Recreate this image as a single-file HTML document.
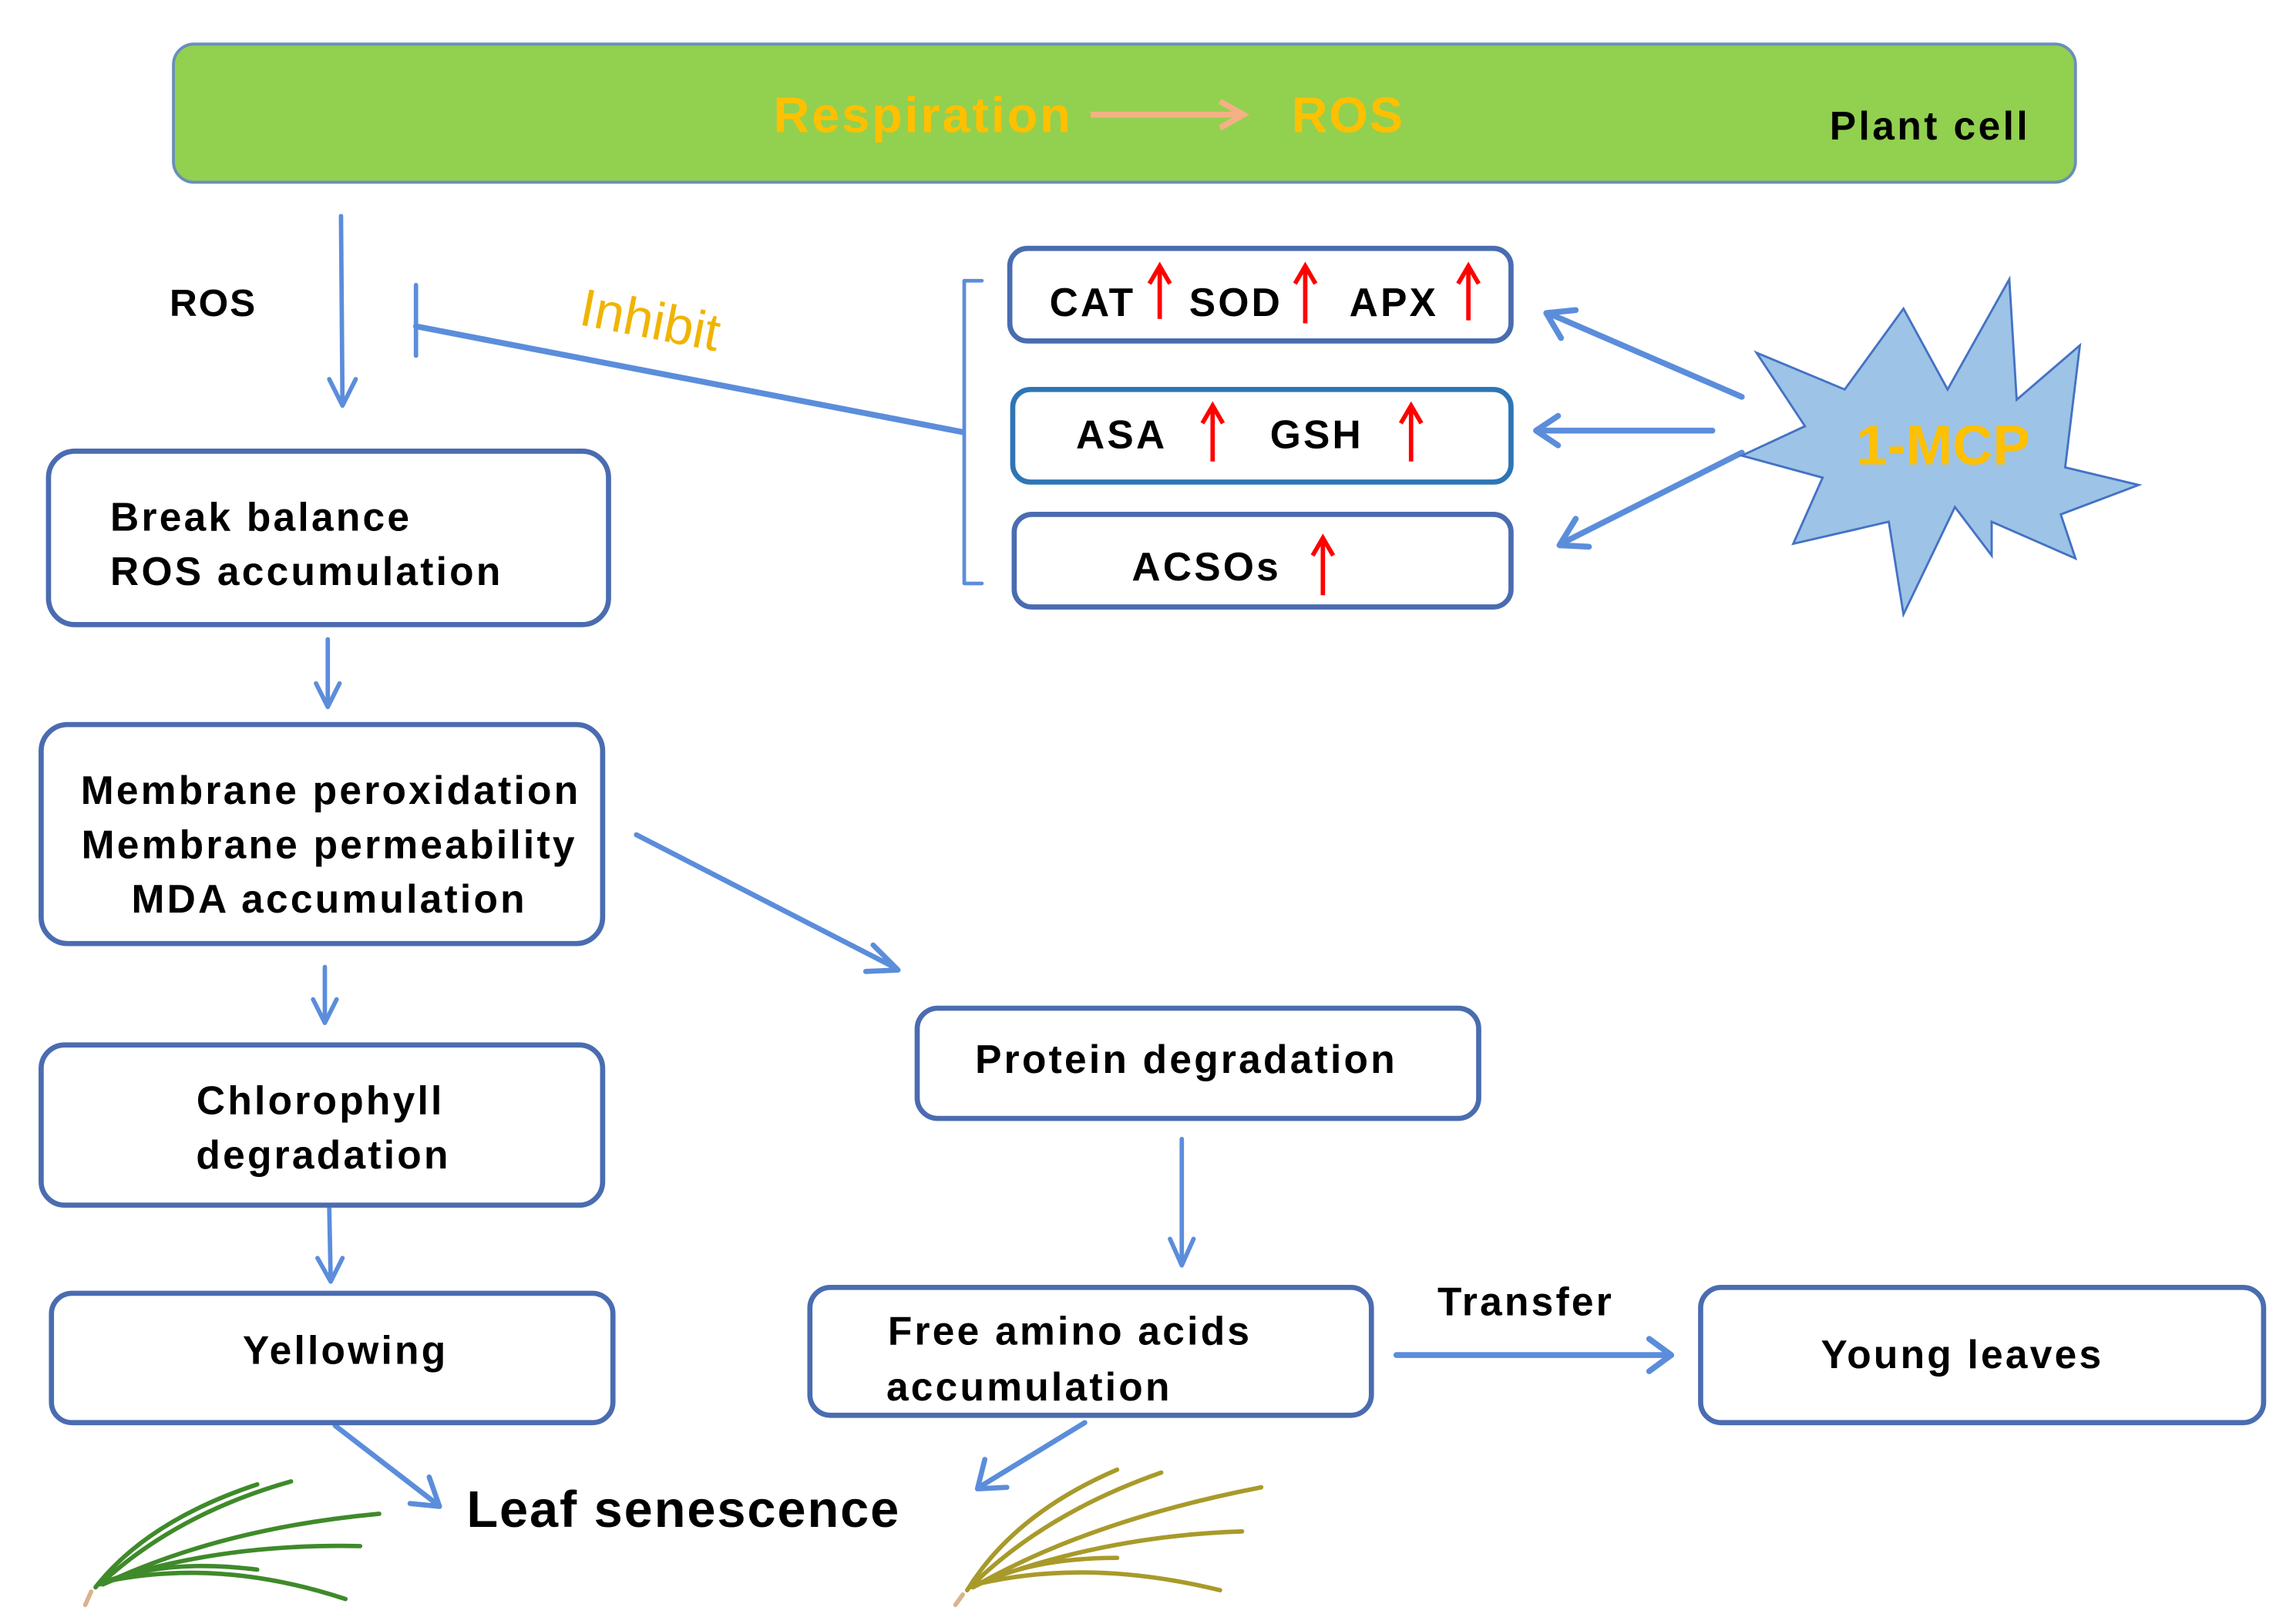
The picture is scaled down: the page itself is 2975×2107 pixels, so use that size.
<!DOCTYPE html>
<html><head><meta charset="utf-8"><style>
html,body{margin:0;padding:0;background:#fff;}
svg{display:block;}
text{font-family:"Liberation Sans",Arial,sans-serif;}
</style></head><body>
<svg width="2975" height="2107" viewBox="0 0 1560 1105" preserveAspectRatio="none" xmlns="http://www.w3.org/2000/svg">
<rect x="0" y="0" width="1560" height="1105" fill="#fff"/>
<!-- green bar -->
<rect x="118" y="30" width="1294" height="94" rx="14" fill="#92d050" stroke="#6a8fb8" stroke-width="2"/>
<text x="628" y="90" font-size="34" font-weight="bold" fill="#ffc000" text-anchor="middle" letter-spacing="1.5">Respiration</text>
<line x1="742" y1="78" x2="845" y2="78" stroke="#f4b183" stroke-width="4"/>
<polyline points="830,69 846,78 830,87" fill="none" stroke="#f4b183" stroke-width="4"/>
<text x="917" y="90" font-size="34" font-weight="bold" fill="#ffc000" text-anchor="middle" letter-spacing="1">ROS</text>
<text x="1313" y="95" font-size="27" font-weight="bold" fill="#000" text-anchor="middle" letter-spacing="1.8">Plant cell</text>

<g stroke="#5b8ddb" fill="none" stroke-width="3" stroke-linecap="round" stroke-linejoin="round">
<line x1="232" y1="147" x2="233" y2="275"/>
<polyline points="224,258 233,276 242,258"/>
<line x1="283" y1="194" x2="283" y2="242"/>
<line x1="283" y1="222" x2="655" y2="294" stroke-width="4"/>
<polyline points="668,191 656,191 656,397 668,397" stroke-width="2.5"/>
<line x1="1185" y1="270" x2="1053" y2="213" stroke-width="4"/>
<polyline points="1072,211 1052,213 1062,230" stroke-width="4"/>
<line x1="1165" y1="293" x2="1046" y2="293" stroke-width="4"/>
<polyline points="1060,283 1045,293 1060,303" stroke-width="4"/>
<line x1="1185" y1="308" x2="1062" y2="370" stroke-width="4"/>
<polyline points="1072,353 1061,371 1081,372" stroke-width="4"/>
<line x1="223" y1="435" x2="223" y2="480"/>
<polyline points="215,465 223,481 231,465"/>
<line x1="221" y1="658" x2="221" y2="695"/>
<polyline points="213,680 221,696 229,680"/>
<line x1="224" y1="822" x2="225" y2="871"/>
<polyline points="216,856 225,872 233,856"/>
<line x1="433" y1="568" x2="610" y2="659" stroke-width="3.5"/>
<polyline points="594,643 611,660 589,661" stroke-width="3.5"/>
<line x1="804" y1="775" x2="804" y2="860"/>
<polyline points="796,843 804,861 812,843"/>
<line x1="950" y1="922" x2="1135" y2="922" stroke-width="4"/>
<polyline points="1122,911 1137,922 1122,933" stroke-width="4"/>
<line x1="228" y1="970" x2="298" y2="1024" stroke-width="3.5"/>
<polyline points="292,1005 299,1025 279,1023" stroke-width="3.5"/>
<line x1="738" y1="968" x2="666" y2="1012" stroke-width="3.5"/>
<polyline points="670,993 665,1013 685,1012" stroke-width="3.5"/>
</g>

<text x="145" y="215" font-size="26" font-weight="bold" fill="#000" text-anchor="middle" letter-spacing="1">ROS</text>
<text x="442" y="230" font-size="36" fill="#f0b400" text-anchor="middle" transform="rotate(11 442 220)">Inhibit</text>

<g fill="#fff" stroke="#4a6cb0" stroke-width="3.5">
<rect x="687" y="169" width="341" height="63" rx="12"/>
<rect x="689" y="265" width="339" height="63" rx="12" stroke="#2e75b6"/>
<rect x="690" y="350" width="338" height="63" rx="12"/>
<rect x="33" y="307" width="381" height="118" rx="18"/>
<rect x="28" y="493" width="382" height="149" rx="18"/>
<rect x="28" y="711" width="382" height="109" rx="16"/>
<rect x="35" y="880" width="382" height="88" rx="14"/>
<rect x="624" y="686" width="382" height="75" rx="14"/>
<rect x="551" y="876" width="382" height="87" rx="14"/>
<rect x="1157" y="876" width="383" height="92" rx="14"/>
</g>

<g font-size="27" font-weight="bold" fill="#000" letter-spacing="1.7">
<text x="714" y="215">CAT</text>
<text x="809" y="215">SOD</text>
<text x="918" y="215">APX</text>
<text x="732" y="305">ASA</text>
<text x="864" y="305">GSH</text>
<text x="770" y="395">ACSOs</text>
<text x="75" y="361">Break balance</text>
<text x="75" y="398">ROS accumulation</text>
<text x="225" y="547" text-anchor="middle">Membrane peroxidation</text>
<text x="224" y="584" text-anchor="middle">Membrane permeability</text>
<text x="224" y="621" text-anchor="middle">MDA accumulation</text>
<text x="218" y="758" text-anchor="middle">Chlorophyll</text>
<text x="220" y="795" text-anchor="middle">degradation</text>
<text x="235" y="928" text-anchor="middle">Yellowing</text>
<text x="807" y="730" text-anchor="middle">Protein degradation</text>
<text x="604" y="915">Free amino acids</text>
<text x="603" y="953">accumulation</text>
<text x="1335" y="931" text-anchor="middle">Young leaves</text>
<text x="1038" y="895" text-anchor="middle">Transfer</text>
</g>
<text x="465" y="1039" font-size="35" font-weight="bold" fill="#000" text-anchor="middle" letter-spacing="1">Leaf senescence</text>

<g stroke="#ff0000" stroke-width="3" fill="none">
<line x1="789" y1="217" x2="789" y2="182"/><polyline points="782,193 789,181 796,193"/>
<line x1="888" y1="220" x2="888" y2="182"/><polyline points="881,193 888,181 895,193"/>
<line x1="999" y1="218" x2="999" y2="182"/><polyline points="992,193 999,181 1006,193"/>
<line x1="825" y1="314" x2="825" y2="276"/><polyline points="818,288 825,276 832,288"/>
<line x1="960" y1="314" x2="960" y2="276"/><polyline points="953,288 960,276 967,288"/>
<line x1="900" y1="405" x2="900" y2="366"/><polyline points="893,378 900,366 907,378"/>
</g>

<polygon points="1367,190 1372,272 1415,235 1405,318 1455,330 1402,350 1412,380 1355,355 1355,378 1330,345 1295,418 1285,355 1220,370 1240,325 1185,310 1228,290 1195,240 1255,265 1295,210 1325,265" fill="#9dc3e6" stroke="#4472c4" stroke-width="1.5" stroke-linejoin="miter"/>
<text x="1322" y="316" font-size="38" font-weight="bold" fill="#ffc000" text-anchor="middle">1-MCP</text>

<g fill="none" stroke-linecap="round">
<g stroke="#3f8a2a" stroke-width="3">
<path d="M65,1080 Q100,1035 175,1010"/>
<path d="M68,1078 Q120,1030 198,1008"/>
<path d="M70,1078 Q150,1040 258,1030"/>
<path d="M72,1076 Q150,1050 245,1052"/>
<path d="M72,1076 Q150,1060 235,1088"/>
<path d="M70,1078 Q110,1060 175,1068"/>
</g>
<path d="M62,1083 L58,1092" stroke="#d9b38c" stroke-width="3"/>
<g stroke="#a89a2a" stroke-width="3">
<path d="M658,1082 Q690,1030 760,1000"/>
<path d="M660,1080 Q710,1030 790,1002"/>
<path d="M662,1080 Q740,1035 858,1012"/>
<path d="M664,1078 Q750,1045 845,1042"/>
<path d="M664,1078 Q740,1060 830,1082"/>
<path d="M662,1080 Q700,1060 760,1060"/>
</g>
<path d="M655,1085 L650,1092" stroke="#d9b38c" stroke-width="3"/>
</g>
</svg>
</body></html>
